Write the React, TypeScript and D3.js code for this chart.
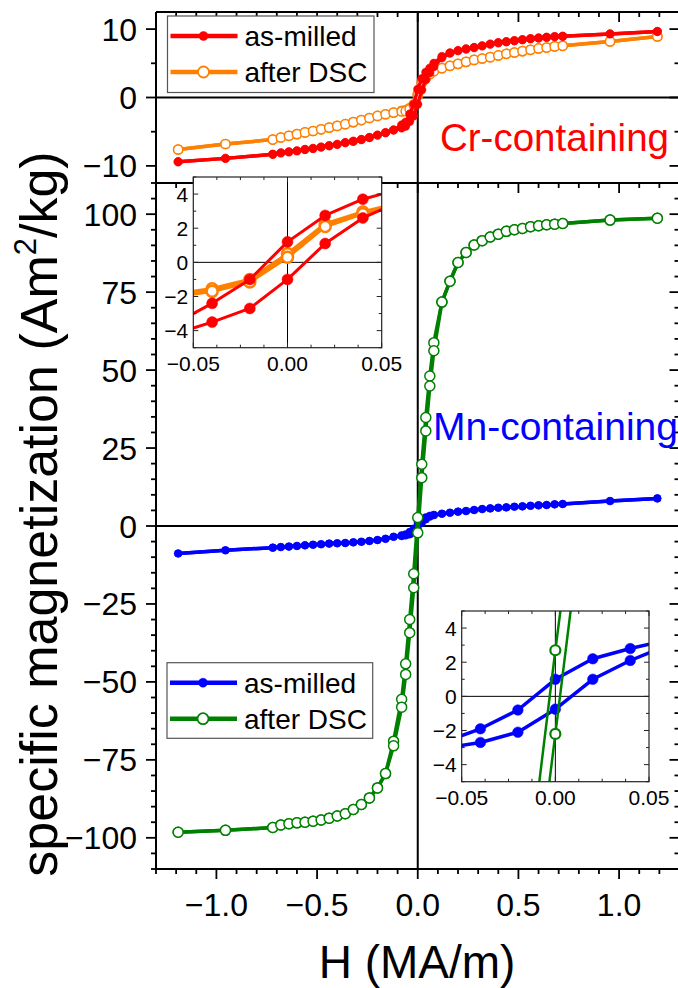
import React from 'react';
import * as d3 from 'd3';

// Applied field H (MA/m), common to every loop branch
const H = [-1.19, -0.955, -0.72, -0.68, -0.64, -0.60, -0.56, -0.52, -0.48, -0.44, -0.40, -0.36, -0.32, -0.28, -0.24, -0.20, -0.16, -0.12, -0.08, -0.06, -0.04, -0.02, 0, 0.02, 0.04, 0.06, 0.08, 0.12, 0.16, 0.20, 0.24, 0.28, 0.32, 0.36, 0.40, 0.44, 0.48, 0.52, 0.56, 0.60, 0.64, 0.68, 0.72, 0.955, 1.19];

// Cr-containing, as-milled (descending / ascending branch)
const crMilledDesc = [-9.4, -8.9, -8.3, -8.1, -7.95, -7.8, -7.6, -7.45, -7.25, -7.05, -6.85, -6.6, -6.4, -6.15, -5.85, -5.5, -5.15, -4.75, -4.0, -3.6, -2.4, -1.0, 1.2, 2.75, 3.7, 4.3, 5.0, 6.0, 6.5, 6.85, 7.1, 7.3, 7.55, 7.8, 8.0, 8.15, 8.3, 8.45, 8.6, 8.7, 8.8, 8.9, 8.95, 9.3, 9.65];
const crMilledAsc = [-9.4, -8.9, -8.3, -8.1, -7.95, -7.8, -7.6, -7.45, -7.25, -7.05, -6.85, -6.6, -6.4, -6.15, -5.85, -5.5, -5.15, -4.75, -4.45, -4.2, -3.5, -2.7, -1.0, 1.1, 2.6, 3.6, 4.5, 5.8, 6.5, 6.85, 7.1, 7.3, 7.55, 7.8, 8.0, 8.15, 8.3, 8.45, 8.6, 8.7, 8.8, 8.9, 8.95, 9.3, 9.65];
// Cr-containing, after DSC
const crDscDesc = [-7.6, -6.8, -6.15, -5.85, -5.6, -5.35, -5.1, -4.9, -4.65, -4.4, -4.15, -3.9, -3.6, -3.3, -3.0, -2.7, -2.45, -2.2, -1.95, -1.85, -1.55, -1.0, 0.5, 2.25, 2.95, 3.5, 3.9, 4.28, 4.63, 4.92, 5.21, 5.5, 5.7, 5.9, 6.15, 6.39, 6.58, 6.78, 6.97, 7.17, 7.3, 7.47, 7.56, 8.2, 8.93];
const crDscAsc = [-7.6, -6.8, -6.15, -5.85, -5.6, -5.35, -5.1, -4.9, -4.65, -4.4, -4.15, -3.9, -3.6, -3.3, -3.0, -2.7, -2.45, -2.2, -2.05, -2.0, -1.7, -1.15, 0.3, 2.1, 2.85, 3.4, 3.85, 4.28, 4.63, 4.92, 5.21, 5.5, 5.7, 5.9, 6.15, 6.39, 6.58, 6.78, 6.97, 7.17, 7.3, 7.47, 7.56, 8.2, 8.93];
// Mn-containing, as-milled
const mnMilledDesc = [-8.8, -7.8, -6.95, -6.75, -6.6, -6.4, -6.2, -6.0, -5.85, -5.65, -5.55, -5.45, -5.25, -5.05, -4.8, -4.5, -4.1, -3.45, -2.95, -2.7, -1.9, -0.8, 1.0, 2.2, 2.8, 3.3, 3.6, 3.95, 4.27, 4.6, 4.8, 5.13, 5.44, 5.65, 5.87, 5.97, 6.19, 6.29, 6.5, 6.62, 6.73, 6.94, 7.06, 8.0, 8.85];
const mnMilledAsc = [-8.8, -7.8, -6.95, -6.75, -6.6, -6.4, -6.2, -6.0, -5.85, -5.65, -5.55, -5.45, -5.25, -5.05, -4.8, -4.5, -4.1, -3.45, -3.25, -3.05, -2.7, -2.1, -0.75, 1.0, 2.1, 3.0, 3.45, 3.95, 4.27, 4.6, 4.8, 5.13, 5.44, 5.65, 5.87, 5.97, 6.19, 6.29, 6.5, 6.62, 6.73, 6.94, 7.06, 8.0, 8.85];
// Mn-containing, after DSC
const mnDscDesc = [-98.2, -97.6, -96.7, -95.9, -95.5, -95.2, -95.0, -94.7, -94.3, -93.7, -93.0, -92.3, -90.9, -89.3, -87.2, -84.0, -79.4, -69.0, -55.6, -44.2, -30.0, -15.3, 2.7, 19.8, 34.8, 48.1, 58.8, 71.8, 78.5, 84.5, 87.7, 90.1, 91.5, 92.7, 93.6, 94.5, 95.0, 95.4, 96.0, 96.3, 96.6, 96.8, 97.0, 98.1, 98.7];
const mnDscAsc = [-98.2, -97.6, -96.7, -95.9, -95.5, -95.2, -95.0, -94.7, -94.3, -93.7, -93.0, -92.3, -90.9, -89.3, -87.2, -84.0, -79.4, -70.5, -58.1, -47.6, -34.2, -19.8, -2.2, 15.5, 30.5, 44.9, 56.2, 71.8, 78.5, 84.5, 87.7, 90.1, 91.5, 92.7, 93.6, 94.5, 95.0, 95.4, 96.0, 96.3, 96.6, 96.8, 97.0, 98.1, 98.7];

// Tick values
const xMajor = [-1.0, -0.5, 0.0, 0.5, 1.0];
const xMajorLabels = ['\u22121.0', '\u22120.5', '0.0', '0.5', '1.0'];
const mainYMajor = [-100, -75, -50, -25, 0, 25, 50, 75, 100];
const topYMajor = [-10, 0, 10];
const insetXMajor = [-0.05, 0, 0.05];
const insetXLabels = ['\u22120.05', '0.00', '0.05'];
const insetYMajor = [-4, -2, 0, 2, 4];

const legendLabels = ['as-milled', 'after DSC'];

const FONT = "'Liberation Sans', Arial, Helvetica, sans-serif";
const RED = '#ff0000', ORANGE = '#ff8000', BLUE = '#0000ff', GREEN = '#008000';

const xMain = d3.scaleLinear().domain([-1.3, 1.3]).range([156, 679.5]);
const yTop = d3.scaleLinear().domain([-12.5, 12.5]).range([183, 12]);
const yMain = d3.scaleLinear().domain([-110, 110]).range([869, 183]);
const xIn1 = d3.scaleLinear().domain([-0.05, 0.05]).range([193.3, 381.7]);
const yIn1 = d3.scaleLinear().domain([-5, 5]).range([347.7, 177]);
const xIn2 = d3.scaleLinear().domain([-0.05, 0.05]).range([461.7, 649]);
const yIn2 = d3.scaleLinear().domain([-5, 5]).range([781.7, 611]);

const fmt = (v: number) => (v < 0 ? '\u2212' + Math.abs(v) : String(v));

type Sty = { color: string; filled: boolean; r: number; lw: number; sw: number };

function Loop({ xs, ys, desc, asc, sty }: { xs: any; ys: any; desc: number[]; asc: number[]; sty: Sty }) {
  const line = d3.line<number>().x((_, i) => xs(H[i])).y((d) => ys(d));
  const branches = [desc, asc];
  return (
    <g>
      {branches.map((b, k) => (
        <path key={'l' + k} d={line(b) || ''} fill="none" stroke={sty.color} strokeWidth={sty.lw} strokeLinejoin="round" />
      ))}
      {branches.map((b, k) => (
        <g key={'m' + k}>
          {b.map((v, i) => (
            <circle key={i} cx={xs(H[i])} cy={ys(v)} r={sty.r}
              fill={sty.filled ? sty.color : '#fff'} stroke={sty.color} strokeWidth={sty.filled ? 0.5 : sty.sw} />
          ))}
        </g>
      ))}
    </g>
  );
}

function Inset({ xs, ys, id, children }: { xs: any; ys: any; id: string; children: any }) {
  const [x0, x1] = xs.range();
  const [y1, y0] = ys.range();
  const minorX = d3.range(-0.05, 0.0501, 0.0125);
  const minorY = d3.range(-5, 5.01, 1);
  return (
    <g>
      <defs>
        <clipPath id={id}>
          <rect x={x0} y={y0} width={x1 - x0} height={y1 - y0} />
        </clipPath>
      </defs>
      <rect x={x0} y={y0} width={x1 - x0} height={y1 - y0} fill="#fff" />
      <g clipPath={`url(#${id})`}>
        <line x1={x0} x2={x1} y1={ys(0)} y2={ys(0)} stroke="#000" strokeWidth={1} />
        <line x1={xs(0)} x2={xs(0)} y1={y0} y2={y1} stroke="#000" strokeWidth={1} />
        {children}
      </g>
      {minorX.map((v, i) => {
        const major = insetXMajor.some((m) => Math.abs(m - v) < 1e-6);
        const L = major ? 5 : 3;
        return (
          <g key={'tx' + i}>
            <line x1={xs(v)} x2={xs(v)} y1={y1} y2={y1 - L} stroke="#222" strokeWidth={1} />
            <line x1={xs(v)} x2={xs(v)} y1={y0} y2={y0 + L} stroke="#222" strokeWidth={1} />
          </g>
        );
      })}
      {minorY.map((v, i) => {
        const major = insetYMajor.includes(Math.round(v));
        const L = major ? 5 : 3;
        return (
          <g key={'ty' + i}>
            <line x1={x0} x2={x0 + L} y1={ys(v)} y2={ys(v)} stroke="#222" strokeWidth={1} />
            <line x1={x1} x2={x1 - L} y1={ys(v)} y2={ys(v)} stroke="#222" strokeWidth={1} />
          </g>
        );
      })}
      <rect x={x0} y={y0} width={x1 - x0} height={y1 - y0} fill="none" stroke="#222" strokeWidth={1.2} />
      {insetYMajor.map((v) => (
        <text key={'yl' + v} x={x0 - 5} y={ys(v)} dy="0.36em" textAnchor="end" fontSize={21} fontFamily={FONT}>{fmt(v)}</text>
      ))}
      {insetXMajor.map((v, i) => (
        <text key={'xl' + i} x={xs(v)} y={y1 + 23} textAnchor="middle" fontSize={21} fontFamily={FONT}>{insetXLabels[i]}</text>
      ))}
    </g>
  );
}

function Legend({ x, y, w, h, rows }: { x: number; y: number; w: number; h: number; rows: Sty[] }) {
  const rowY = [y + 20, y + 56];
  return (
    <g>
      <rect x={x} y={y} width={w} height={h} fill="#fff" stroke="#555" strokeWidth={1.2} />
      {rows.map((s, i) => (
        <g key={i}>
          <line x1={x + 3} x2={x + 70} y1={rowY[i]} y2={rowY[i]} stroke={s.color} strokeWidth={4.5} />
          <circle cx={x + 36} cy={rowY[i]} r={s.filled ? 4.5 : 5.5} fill={s.filled ? s.color : '#fff'} stroke={s.color} strokeWidth={s.filled ? 0.5 : 1.8} />
          <text x={x + 77} y={rowY[i]} dy="0.36em" fontSize={28} fontFamily={FONT}>{legendLabels[i]}</text>
        </g>
      ))}
    </g>
  );
}

export default function App() {
  const [L, R] = xMain.range();
  const T = 12, S = 183, B = 869;
  const xMinor = d3.range(-1.3, 1.3001, 0.1);
  const mainYMinor = d3.range(-110, 110.01, 5);
  const topYMinor = d3.range(-10, 10.01, 5);
  const isMajorX = (v: number) => xMajor.some((m) => Math.abs(m - v) < 1e-6);

  const redTop: Sty = { color: RED, filled: true, r: 4.2, lw: 3.5, sw: 0 };
  const orangeTop: Sty = { color: ORANGE, filled: false, r: 4.6, lw: 3.5, sw: 1.5 };
  const blueMain: Sty = { color: BLUE, filled: true, r: 3.8, lw: 3.5, sw: 0 };
  const greenMain: Sty = { color: GREEN, filled: false, r: 5, lw: 3.5, sw: 1.5 };

  return (
    <svg width={678} height={988} style={{ position: 'absolute', left: 0, top: 0, background: '#fff' }}>
      <rect x={0} y={0} width={678} height={988} fill="#fff" />

      {/* zero lines */}
      <line x1={L} x2={R} y1={yTop(0)} y2={yTop(0)} stroke="#000" strokeWidth={2} />
      <line x1={L} x2={R} y1={yMain(0)} y2={yMain(0)} stroke="#000" strokeWidth={2} />
      <line x1={xMain(0)} x2={xMain(0)} y1={T} y2={B} stroke="#000" strokeWidth={2} />

      {/* top panel data */}
      <Loop xs={xMain} ys={yTop} desc={crDscDesc} asc={crDscAsc} sty={orangeTop} />
      <Loop xs={xMain} ys={yTop} desc={crMilledDesc} asc={crMilledAsc} sty={redTop} />

      {/* main panel data */}
      <Loop xs={xMain} ys={yMain} desc={mnMilledDesc} asc={mnMilledAsc} sty={blueMain} />
      <Loop xs={xMain} ys={yMain} desc={mnDscDesc} asc={mnDscAsc} sty={greenMain} />

      {/* frame */}
      <line x1={L} x2={R} y1={T} y2={T} stroke="#000" strokeWidth={2} />
      <line x1={L} x2={R} y1={S} y2={S} stroke="#000" strokeWidth={2} />
      <line x1={L} x2={R} y1={B} y2={B} stroke="#000" strokeWidth={2} />
      <line x1={L} x2={L} y1={T} y2={B + 1} stroke="#000" strokeWidth={2} />
      <line x1={R} x2={R} y1={T} y2={B + 1} stroke="#000" strokeWidth={2} />

      {/* x ticks */}
      {xMinor.map((v, i) => {
        const len = isMajorX(v) ? 10 : 5;
        const px = xMain(v);
        return (
          <g key={'xt' + i}>
            <line x1={px} x2={px} y1={B} y2={B + len} stroke="#000" strokeWidth={1.8} />
            <line x1={px} x2={px} y1={T} y2={T + len} stroke="#000" strokeWidth={1.8} />
            <line x1={px} x2={px} y1={S} y2={S + len} stroke="#000" strokeWidth={1.8} />
          </g>
        );
      })}
      {xMajor.map((v, i) => (
        <text key={'xl' + i} x={xMain(v)} y={916} textAnchor="middle" fontSize={32} fontFamily={FONT}>{xMajorLabels[i]}</text>
      ))}

      {/* main y ticks */}
      {mainYMinor.map((v, i) => {
        const len = mainYMajor.includes(Math.round(v)) ? 10 : 5;
        const py = yMain(v);
        return (
          <g key={'myt' + i}>
            <line x1={L} x2={L - len} y1={py} y2={py} stroke="#000" strokeWidth={1.8} />
            <line x1={R} x2={R - len} y1={py} y2={py} stroke="#000" strokeWidth={1.8} />
          </g>
        );
      })}
      {mainYMajor.map((v) => (
        <text key={'myl' + v} x={137} y={yMain(v)} dy="0.36em" textAnchor="end" fontSize={32} fontFamily={FONT}>{fmt(v)}</text>
      ))}

      {/* top y ticks */}
      {topYMinor.map((v, i) => {
        const len = topYMajor.includes(Math.round(v)) ? 10 : 5;
        const py = yTop(v);
        return (
          <g key={'tyt' + i}>
            <line x1={L} x2={L - len} y1={py} y2={py} stroke="#000" strokeWidth={1.8} />
            <line x1={R} x2={R - len} y1={py} y2={py} stroke="#000" strokeWidth={1.8} />
          </g>
        );
      })}
      {topYMajor.map((v) => (
        <text key={'tyl' + v} x={137} y={yTop(v)} dy="0.36em" textAnchor="end" fontSize={32} fontFamily={FONT}>{fmt(v)}</text>
      ))}

      {/* annotations */}
      <text x={440} y={151} fontSize={38.5} fill={RED} fontFamily={FONT}>Cr-containing</text>
      <text x={433} y={440} fontSize={39} fill={BLUE} fontFamily={FONT}>Mn-containing</text>

      {/* legends */}
      <Legend x={167.5} y={16} w={206.5} h={76.5} rows={[redTop, orangeTop]} />
      <Legend x={167} y={662.7} w={205.7} h={75.6} rows={[blueMain, greenMain]} />

      {/* insets */}
      <Inset xs={xIn1} ys={yIn1} id="clip1">
        <Loop xs={xIn1} ys={yIn1} desc={crDscDesc} asc={crDscAsc} sty={{ color: ORANGE, filled: false, r: 5.5, lw: 3.5, sw: 2.5 }} />
        <Loop xs={xIn1} ys={yIn1} desc={crMilledDesc} asc={crMilledAsc} sty={{ color: RED, filled: true, r: 5.5, lw: 3, sw: 0 }} />
      </Inset>
      <Inset xs={xIn2} ys={yIn2} id="clip2">
        <Loop xs={xIn2} ys={yIn2} desc={mnMilledDesc} asc={mnMilledAsc} sty={{ color: BLUE, filled: true, r: 5.3, lw: 3.5, sw: 0 }} />
        <Loop xs={xIn2} ys={yIn2} desc={mnDscDesc} asc={mnDscAsc} sty={{ color: GREEN, filled: false, r: 5, lw: 2.5, sw: 2.2 }} />
      </Inset>

      {/* axis titles */}
      <text x={417} y={978} textAnchor="middle" fontSize={46} fontFamily={FONT}>H (MA/m)</text>
      <text transform="translate(57,514) rotate(-90)" textAnchor="middle" fontSize={52} fontFamily={FONT}>
        specific magnetization (Am<tspan fontSize={31} dy={-21}>2</tspan><tspan dy={21}>/kg)</tspan>
      </text>
    </svg>
  );
}
